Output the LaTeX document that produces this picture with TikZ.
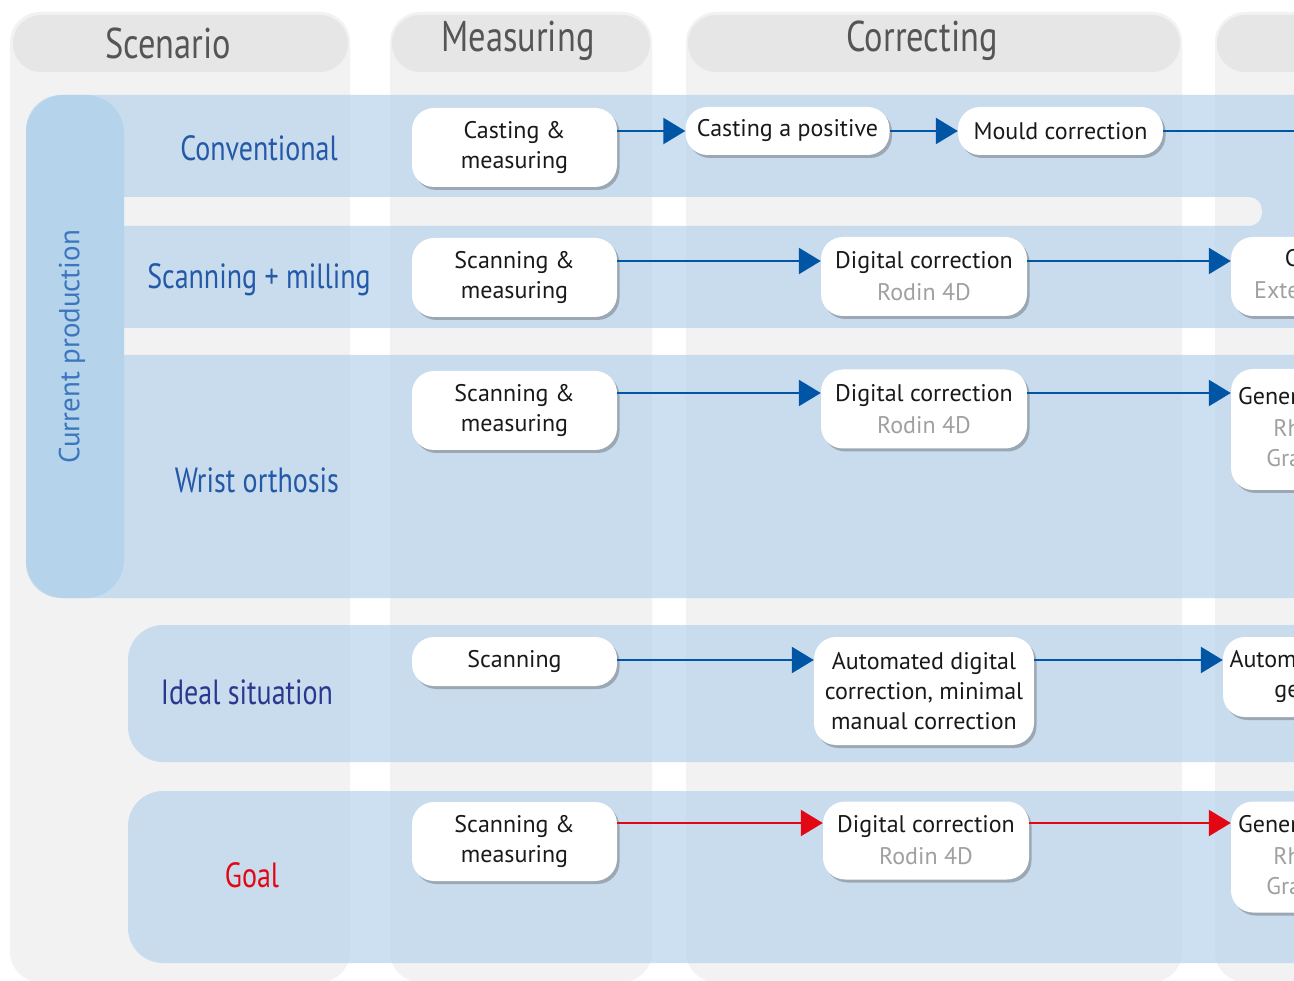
\documentclass[tikz,border=0pt]{standalone}
\usepackage{fontspec}
\setmainfont{PT Sans}
\newfontfamily\condfont[FakeStretch=0.8]{PT Sans}
\usetikzlibrary{arrows.meta,shadows}
\definecolor{colgray}{RGB}{242,242,242}
\definecolor{headgray}{RGB}{230,230,230}
\definecolor{headtext}{RGB}{85,85,85}
\definecolor{bandblue}{RGB}{183,212,236}
\definecolor{pillblue}{RGB}{181,212,235}
\definecolor{rowblue}{RGB}{36,89,168}
\definecolor{navy}{RGB}{43,56,143}
\definecolor{goalred}{RGB}{227,6,19}
\definecolor{arrowblue}{RGB}{0,85,165}
\definecolor{subgray}{RGB}{160,160,160}
\definecolor{shadowc}{RGB}{155,168,180}
\definecolor{cpblue}{RGB}{60,118,189}
\begin{document}
\begin{tikzpicture}[x=1pt,y=-1pt,
  box/.style={fill=white, rounded corners=22pt, align=center,
    font=\fontsize{24}{30}\selectfont, text=black!90, inner sep=0pt,
    drop shadow={shadow xshift=2.5pt, shadow yshift=-3pt, fill=shadowc, opacity=1}},
  head/.style={font=\condfont\fontsize{43}{43}\selectfont, text=headtext},
  rowlab/.style={font=\condfont\fontsize{35}{35}\selectfont},
  column/.style={fill=colgray, rounded corners=30pt},
  headpill/.style={fill=headgray, rounded corners=28pt},
  band/.style={fill=bandblue, fill opacity=0.7},
  arr/.style={draw=arrowblue, line width=2.5pt, -{Triangle[length=22pt,width=26pt]}},
  arrred/.style={draw=goalred, line width=2.5pt, -{Triangle[length=22pt,width=26pt]}},
  plain/.style={draw=arrowblue, line width=2.5pt}
]
\useasboundingbox (0,0) rectangle (1294,981);
\clip (0,0) rectangle (1294,981);
\fill[white] (0,0) rectangle (1294,981);

% columns
\fill[column] (10,12) rectangle (350,982);
\fill[column] (390,12) rectangle (652,982);
\fill[column] (686,12) rectangle (1182,982);
\fill[column] (1215,12) rectangle (1400,982);

% header pills
\fill[headpill] (13,15) rectangle (348,72);
\fill[headpill] (392,15) rectangle (650,72);
\fill[headpill] (688,15) rectangle (1180,72);
\fill[headpill] (1217,15) rectangle (1400,72);
\node[head] (hscen) at (168,43) {Scenario};
\node[head] (hmeas) at (518,41) {Measuring};
\node[head] (hcorr) at (922,41) {Correcting};

% current production band with separator gaps
\fill[band, even odd rule, rounded corners=35pt] (26,95) rectangle (1360,598)
  [rounded corners=13pt] (110,197) rectangle (1262,226)
  (110,328) rectangle (1345,355);
\fill[pillblue, rounded corners=38pt] (26,95) rectangle (124,598);
\node[rotate=90, font=\fontsize{29}{29}\selectfont, text=cpblue] (cp) at (72,347) {Current production};

% ideal and goal bands
\fill[band, rounded corners=35pt] (128,625) rectangle (1360,762);
\fill[band, rounded corners=35pt] (128,791) rectangle (1360,963);

% row labels
\node[rowlab, text=rowblue] (lconv) at (259,148) {Conventional};
\node[rowlab, text=rowblue] (lscan) at (259,280) {Scanning + milling};
\node[rowlab, text=rowblue] (lwrist) at (257,480) {Wrist orthosis};
\node[rowlab, text=navy] (lideal) at (247,692) {Ideal situation};
\node[rowlab, text=goalred] (lgoal) at (252,875) {Goal};

% row 1
\node[box, minimum width=205pt, minimum height=79pt] (c1a) at (514.5,147.5) {Casting \&\\measuring};
\node[box, minimum width=204pt, minimum height=48pt] (c1b) at (787.5,131) {Casting a positive};
\node[box, minimum width=205pt, minimum height=48pt] (c1c) at (1060.5,131) {Mould correction};
\coordinate (r1) at (1330,131);
\draw[arr] (c1a.east |- c1b.west) -- (c1b.west);
\draw[arr] (c1b.east) -- (c1c.west);
\draw[plain] (c1c.east) -- (r1);

% row 2
\node[box, minimum width=205pt, minimum height=79pt] (c2a) at (514.5,277.5) {Scanning \&\\measuring};
\node[box, minimum width=206pt, minimum height=79pt] (c2b) at (924,276.5) {Digital correction\\[2pt]{\color{subgray}Rodin 4D}};
\node[box, minimum width=230pt, minimum height=79pt] (c2c) at (1346,276.5) {CNC milling\\[2pt]{\color{subgray}External company}};
\coordinate (y2) at (0,261);
\draw[arr] (c2a.east |- y2) -- (c2b.west |- y2);
\draw[arr] (c2b.east |- y2) -- (c2c.west |- y2);

% row 3
\node[box, minimum width=205pt, minimum height=79pt] (c3a) at (514.5,410.5) {Scanning \&\\measuring};
\node[box, minimum width=206pt, minimum height=79pt] (c3b) at (924,409) {Digital correction\\[2pt]{\color{subgray}Rodin 4D}};
\node[box, minimum width=198pt, minimum height=121pt] (c3c) at (1330,429.5) {Generating model\\[2pt]{\color{subgray}Rhinoceros}\\{\color{subgray}Grasshopper}};
\coordinate (y3) at (0,393);
\draw[arr] (c3a.east |- y3) -- (c3b.west |- y3);
\draw[arr] (c3b.east |- y3) -- (c3c.west |- y3);

% ideal
\node[box, minimum width=205pt, minimum height=49pt] (i1) at (514.5,661.5) {Scanning};
\node[box, minimum width=220pt, minimum height=108pt] (i2) at (924,691) {Automated digital\\correction, minimal\\manual correction};
\node[box, minimum width=214pt, minimum height=80pt] (i3) at (1330,677) {Automated orthosis\\generation};
\coordinate (yi) at (0,660);
\draw[arr] (i1.east |- yi) -- (i2.west |- yi);
\draw[arr] (i2.east |- yi) -- (i3.west |- yi);

% goal
\node[box, minimum width=205pt, minimum height=79pt] (g1) at (514.5,841.5) {Scanning \&\\measuring};
\node[box, minimum width=206pt, minimum height=78pt] (g2) at (926,840.5) {Digital correction\\[2pt]{\color{subgray}Rodin 4D}};
\node[box, minimum width=198pt, minimum height=111pt] (g3) at (1330,857) {Generating model\\[2pt]{\color{subgray}Rhinoceros}\\{\color{subgray}Grasshopper}};
\coordinate (yg) at (0,823);
\draw[arrred] (g1.east |- yg) -- (g2.west |- yg);
\draw[arrred] (g2.east |- yg) -- (g3.west |- yg);
\end{tikzpicture}
\end{document}
